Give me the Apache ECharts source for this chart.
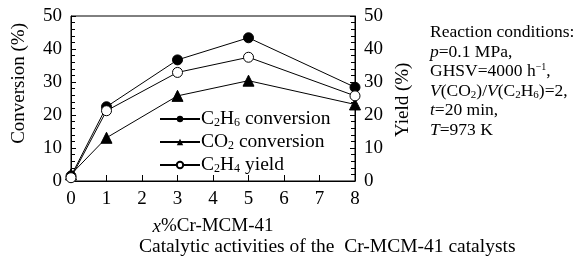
<!DOCTYPE html>
<html><head><meta charset="utf-8">
<script src="https://cdn.jsdelivr.net/npm/echarts@6/dist/echarts.min.js"></script>
<style>html,body{margin:0;padding:0;background:#fff}#c{width:587px;height:261px}</style>
</head><body><div id="c"></div>
<script>
const xValues = [0, 1, 3, 5, 8];
const c2h6Conversion = [1.5, 22.5, 36.7, 43.4, 28.4];
const co2Conversion = [2.0, 13.1, 25.8, 30.4, 23.2];
const c2h4Yield = [1.0, 21.3, 32.9, 37.5, 25.8];
const seriesNames = ['C2H6 conversion', 'CO2 conversion', 'C2H4 yield'];
const legendRich = {
  'C2H6 conversion': '{n|C}{s|2}{n|H}{s|6}{n| conversion}',
  'CO2 conversion': '{n|CO}{s|2}{n| conversion}',
  'C2H4 yield': '{n|C}{s|2}{n|H}{s|4}{n| yield}'
};
const FONT = '"Liberation Serif", "Times New Roman", serif';
const chart = echarts.init(document.getElementById('c'));
const pairs = a => xValues.map((x, i) => [x, a[i]]);
const yAx = (pos) => ({
  type: 'value', position: pos, min: 0, max: 50, interval: 10,
  axisLine: { show: true, lineStyle: { color: '#000', width: 1 } },
  axisTick: { show: true, inside: true, length: 5, lineStyle: { color: '#000' } },
  minorTick: { show: true, splitNumber: 5, length: 4, lineStyle: { color: '#000' } },
  splitLine: { show: false },
  axisLabel: { color: '#000', fontFamily: FONT, fontSize: 19, margin: 9 }
});
chart.setOption({
  animation: false,
  grid: { left: 71, right: 232, top: 16, bottom: 80, show: true, borderColor: '#000', borderWidth: 1 },
  xAxis: {
    type: 'value', min: 0, max: 8, interval: 1,
    axisLine: { show: true, lineStyle: { color: '#000' } },
    axisTick: { show: true, inside: true, length: 6, lineStyle: { color: '#000' } },
    splitLine: { show: false },
    axisLabel: { color: '#000', fontFamily: FONT, fontSize: 19, margin: 9 },
    name: '{i|x}{n|%Cr-MCM-41}', nameLocation: 'middle', nameGap: 36,
    nameTextStyle: { rich: { i: { fontFamily: FONT, fontSize: 19, fontStyle: 'italic', color: '#000' }, n: { fontFamily: FONT, fontSize: 19, color: '#000' } } }
  },
  yAxis: [yAx('left'), yAx('right')],
  legend: {
    orient: 'vertical', left: 154, top: 104, itemWidth: 40, itemHeight: 8, itemGap: 3,
    data: seriesNames,
    formatter: n => legendRich[n],
    textStyle: {
      color: '#000', padding: [0, 0, 0, -4],
      rich: {
        n: { fontFamily: FONT, fontSize: 19.5, color: '#000' },
        s: { fontFamily: FONT, fontSize: 12, color: '#000', verticalAlign: 'bottom', padding: [8, 0, 0, 0] }
      }
    }
  },
  series: [
    { name: seriesNames[0], type: 'line', data: pairs(c2h6Conversion), symbol: 'circle', symbolSize: 10,
      lineStyle: { color: '#000', width: 1 }, itemStyle: { color: '#000', borderColor: '#000' }, z: 3 },
    { name: seriesNames[1], type: 'line', data: pairs(co2Conversion), symbol: 'triangle', symbolSize: 11,
      lineStyle: { color: '#000', width: 1 }, itemStyle: { color: '#000', borderColor: '#000' }, z: 2 },
    { name: seriesNames[2], type: 'line', data: pairs(c2h4Yield), symbol: 'circle', symbolSize: 10,
      lineStyle: { color: '#000', width: 1 }, itemStyle: { color: '#fff', borderColor: '#000', borderWidth: 1 }, z: 4 }
  ],
  graphic: [
    { type: 'text', left: 10, top: 23, rotation: Math.PI / 2, silent: true,
      style: { text: 'Conversion (%)', font: '19px ' + FONT, fill: '#000' } },
    { type: 'text', x: 394, y: 137, rotation: Math.PI / 2, silent: true,
      style: { text: 'Yield (%)', font: '19px ' + FONT, fill: '#000' } },
    { type: 'text', x: 139, y: 237, silent: true,
      style: { text: 'Catalytic activities of the  Cr-MCM-41 catalysts', font: '19.5px ' + FONT, fill: '#000' } },
    { type: 'text', x: 430, y: 23, silent: true,
      style: {
        text: [
          '{n|Reaction conditions:}',
          '{i|p}{n|=0.1 MPa,}',
          '{n|GHSV=4000 h}{sp|−1}{n|,}',
          '{i|V}{n|(CO}{sb|2}{n|)/}{i|V}{n|(C}{sb|2}{n|H}{sb|6}{n|)=2,}',
          '{i|t}{n|=20 min,}',
          '{i|T}{n|=973 K}'
        ].join('\n'),
        fill: '#000',
        rich: {
          n: { fontFamily: FONT, fontSize: 17.5, lineHeight: 19.5, fill: '#000' },
          i: { fontFamily: FONT, fontSize: 17.5, fontStyle: 'italic', lineHeight: 19.5, fill: '#000' },
          sb: { fontFamily: FONT, fontSize: 11, lineHeight: 19.5, fill: '#000', verticalAlign: 'bottom', padding: [6, 0, 0, 0] },
          sp: { fontFamily: FONT, fontSize: 10, lineHeight: 19.5, fill: '#000', verticalAlign: 'top', padding: [0, 0, 6, 0] }
        }
      } }
  ]
});
</script></body></html>
